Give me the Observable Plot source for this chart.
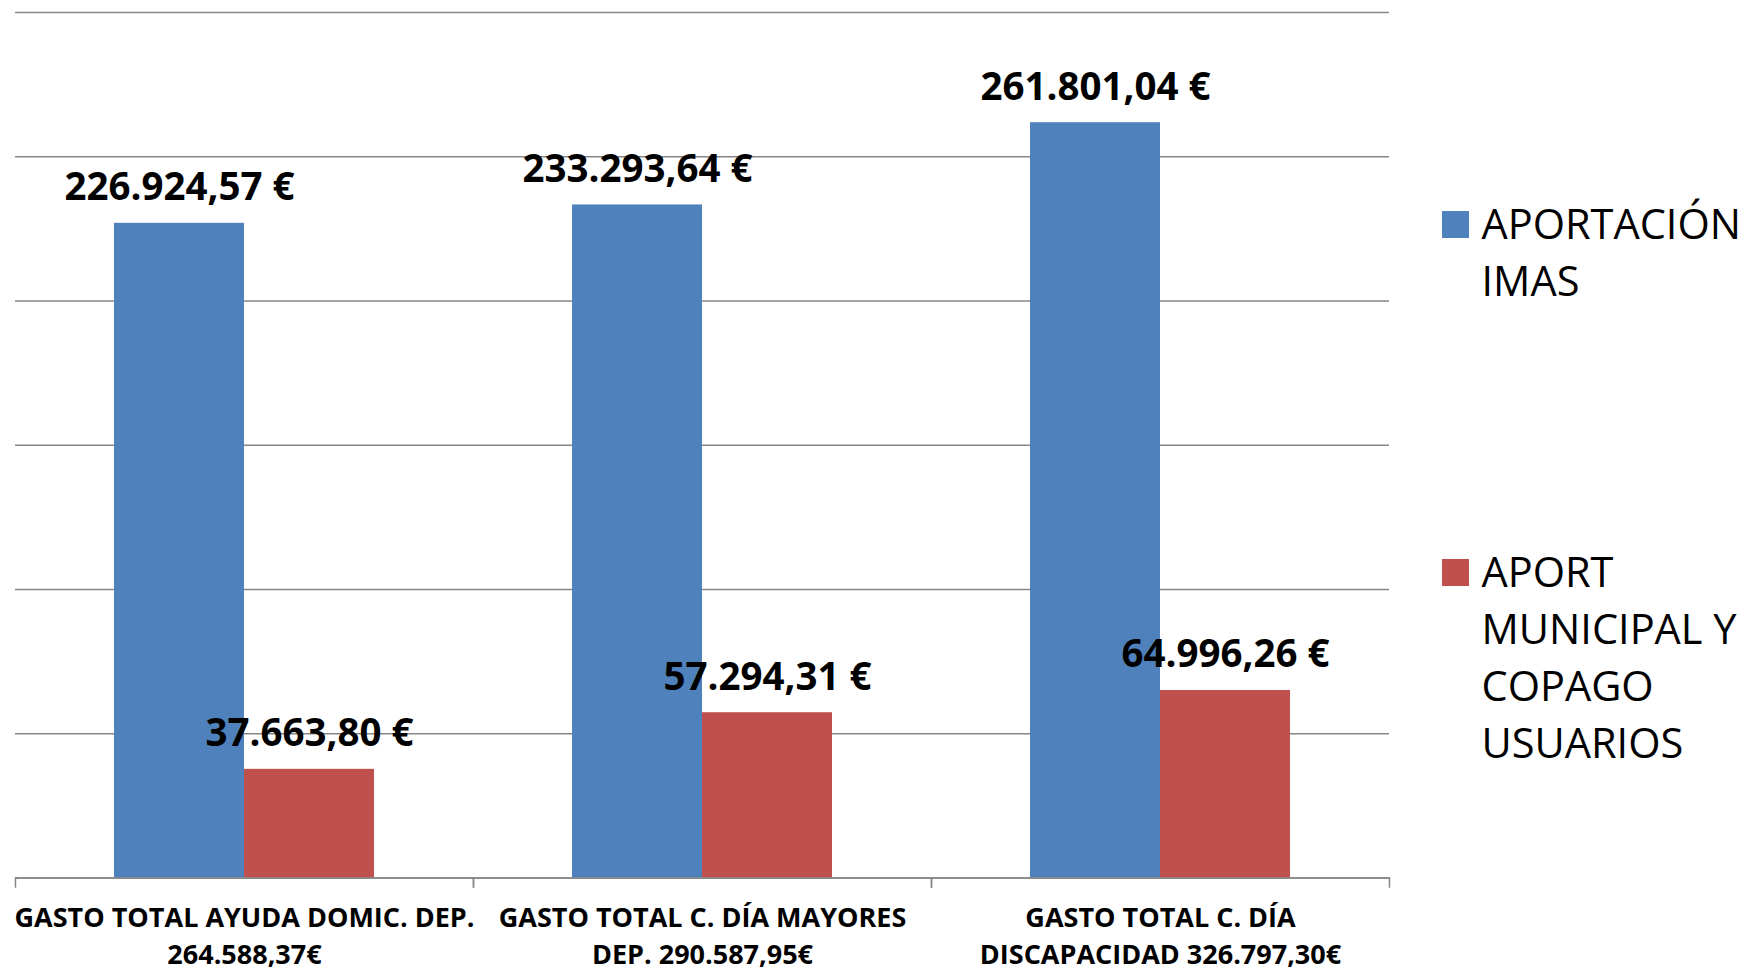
<!DOCTYPE html>
<html>
<head>
<meta charset="utf-8">
<script src="https://cdn.jsdelivr.net/npm/d3@7"></script>
<script src="https://cdn.jsdelivr.net/npm/@observablehq/plot@0.6"></script>
<style>
  body { margin: 0; background: #fff; overflow: hidden; }
  #wrap { position: relative; width: 1744px; height: 973px; }
  .leg { position: absolute; left: 1442px; font-family: "Open Sans", sans-serif; font-size: 41.5px; line-height: 57px; color: #000; white-space: nowrap; }
  .leg .sw { position: absolute; left: 0; top: 16px; width: 27px; height: 27px; }
  .leg .tx { position: absolute; left: 39.5px; top: 0; }
</style>
</head>
<body>
<div id="wrap"></div>
<script>
// ---- data ----
const categories = [
  "GASTO TOTAL AYUDA DOMIC. DEP.",
  "GASTO TOTAL C. DÍA MAYORES DEP.",
  "GASTO TOTAL C. DÍA DISCAPACIDAD"
];
const categoryLabels = [
  "GASTO TOTAL AYUDA DOMIC. DEP.\n264.588,37€",
  "GASTO TOTAL C. DÍA MAYORES\nDEP. 290.587,95€",
  "GASTO TOTAL C. DÍA\nDISCAPACIDAD 326.797,30€"
];
const series = ["APORTACIÓN IMAS", "APORT MUNICIPAL Y COPAGO USUARIOS"];
const legendLines = [["APORTACIÓN", "IMAS"], ["APORT", "MUNICIPAL Y", "COPAGO", "USUARIOS"]];
const imas = [226924.57, 233293.64, 261801.04];
const municipal = [37663.80, 57294.31, 64996.26];
const colors = ["#4F81BD", "#C0504D"];
const yTicks = [0, 50000, 100000, 150000, 200000, 250000, 300000];

// ---- tables built from the arrays ----
const rows = categories.flatMap((c, i) => [
  {cat: c, series: series[0], value: imas[i]},
  {cat: c, series: series[1], value: municipal[i]}
]);
const catRows = categories.map((c, i) => ({cat: c, label: categoryLabels[i]}));

const es = d3.formatLocale({decimal: ",", thousands: ".", grouping: [3], currency: ["", "€"]});
const fmt = (v) => es.format(",.2f")(v) + " €";

const gray = "#868686";

const chart = Plot.plot({
  width: 1744,
  height: 973,
  marginLeft: 14,
  marginRight: 354,
  marginTop: 12,
  marginBottom: 95.5,
  style: {fontFamily: "'Open Sans', sans-serif", background: "white", color: "black"},
  fx: {domain: categories, padding: 0, axis: null},
  x: {domain: series, paddingInner: 0, paddingOuter: 0.752, axis: null},
  y: {domain: [0, 300000], axis: null},
  color: {domain: series, range: colors},
  marks: [
    Plot.gridY(yTicks, {stroke: gray, strokeOpacity: 1, strokeWidth: 1.5}),
    Plot.frame({anchor: "left", stroke: gray, strokeWidth: 1.5, insetTop: 865.5, insetBottom: -9}),
    Plot.frame({anchor: "right", stroke: gray, strokeWidth: 1.5, insetTop: 865.5, insetBottom: -9}),
    Plot.barY(rows, {fx: "cat", x: "series", y: "value", fill: "series"}),
    Plot.ruleY([0], {stroke: gray, strokeWidth: 1.5}),
    Plot.text(rows, {
      fx: "cat", x: "series", y: "value", text: (d) => fmt(d.value),
      lineAnchor: "bottom", dy: -23, fontSize: 38.5, fontWeight: "bold", fill: "black"
    }),
    Plot.text(catRows, {
      fx: "cat", text: "label", frameAnchor: "bottom", lineAnchor: "top",
      dy: 23, lineHeight: 1.37, fontSize: 27, fontWeight: "bold", fill: "black"
    })
  ]
});

const wrap = document.getElementById("wrap");
wrap.appendChild(chart);

// legend (HTML, to the right of the plot)
const legendTops = [194.7, 542.5];
series.forEach((s, i) => {
  const item = document.createElement("div");
  item.className = "leg";
  item.style.top = legendTops[i] + "px";
  const sw = document.createElement("div");
  sw.className = "sw";
  sw.style.background = colors[i];
  const tx = document.createElement("div");
  tx.className = "tx";
  tx.innerHTML = legendLines[i].join("<br>");
  item.appendChild(sw);
  item.appendChild(tx);
  wrap.appendChild(item);
});
</script>
</body>
</html>
